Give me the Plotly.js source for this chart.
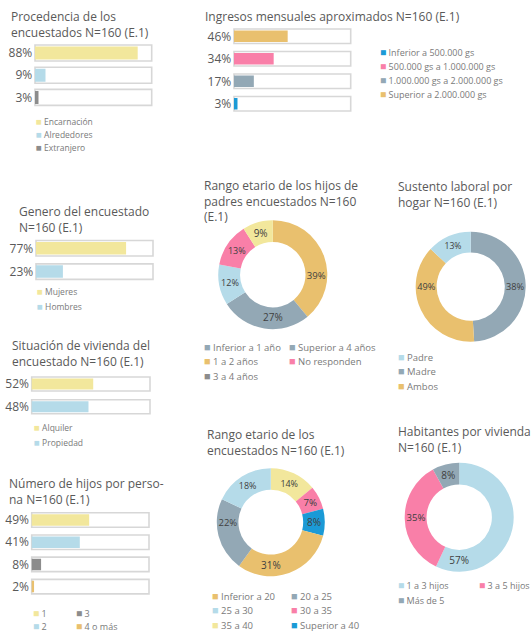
<!DOCTYPE html>
<html>
<head>
<meta charset="utf-8">
<script src="https://cdn.plot.ly/plotly-3.0.1.min.js"></script>
<style>html,body{margin:0;padding:0;background:#fff;overflow:hidden}#chart{width:532px;height:633px}</style>
</head>
<body>
<div id="chart"></div>
<script>
// ---------------- DATA ----------------
const procedenciaCats = ['Encarnación', 'Alrededores', 'Extranjero'];
const procedenciaVals = [88, 9, 3];

const ingresosCats = ['Superior a 2.000.000 gs', '500.000 gs a 1.000.000 gs', '1.000.000 gs a 2.000.000 gs', 'Inferior a 500.000 gs'];
const ingresosVals = [46, 34, 17, 3];
const ingresosLegend = ['Inferior a 500.000 gs', '500.000 gs a 1.000.000 gs', '1.000.000 gs a 2.000.000 gs', 'Superior a 2.000.000 gs'];

const generoCats = ['Mujeres', 'Hombres'];
const generoVals = [77, 23];

const viviendaCats = ['Alquiler', 'Propiedad'];
const viviendaVals = [52, 48];

const numHijosCats = ['1', '2', '3', '4 o más'];
const numHijosVals = [49, 41, 8, 2];

const edadHijosLabels = ['1 a 2 años', 'Superior a 4 años', 'Inferior a 1 año', 'No responden', '3 a 4 años'];
const edadHijosVals = [39, 27, 12, 13, 9];
const edadHijosLegend = ['Inferior a 1 año', 'Superior a 4 años', '1 a 2 años', 'No responden', '3 a 4 años'];

// In the reference the slice sizes and the printed percentages disagree;
// both are reproduced as pictured.
const sustentoLabels = ['Madre', 'Ambos', 'Padre'];
const sustentoSlices = [49, 38, 13];
const sustentoPrinted = [38, 49, 13];
const sustentoLegend = ['Padre', 'Madre', 'Ambos'];

const edadEncLabels = ['35 a 40', '30 a 35', 'Superior a 40', 'Inferior a 20', '20 a 25', '25 a 30'];
const edadEncVals = [14, 7, 8, 31, 22, 18];
const edadEncLegend = ['Inferior a 20', '20 a 25', '25 a 30', '30 a 35', '35 a 40', 'Superior a 40'];

const habitantesLabels = ['1 a 3 hijos', '3 a 5 hijos', 'Más de 5'];
const habitantesVals = [57, 35, 8];

// ---------------- STYLE ----------------
const W = 532, H = 633;
const FONT = 'Open Sans, sans-serif';
const C = {
  yellow: '#f2e79c', lblue: '#b5dbe9', dgray: '#8c8c8c', gold: '#e9c06e',
  pink: '#f97fa8', gblue: '#93a8b5', blue: '#1b9ad6'
};
const TITLE_COL = '#595959', LEG_COL = '#7a7a7a';

const traces = [];
const layout = {
  width: W, height: H, margin: {l: 0, r: 0, t: 0, b: 0},
  paper_bgcolor: '#fff', plot_bgcolor: 'rgba(0,0,0,0)',
  showlegend: false, barmode: 'overlay',
  font: {family: FONT, color: TITLE_COL},
  annotations: []
};

function barPanel(idx, vals, colors, L, R, yTop, s, h) {
  const n = vals.length;
  const unit = (R - L) / 100;
  const pad = 1.5;
  const xa = idx === 1 ? 'x' : 'x' + idx, ya = idx === 1 ? 'y' : 'y' + idx;
  const xk = idx === 1 ? 'xaxis' : 'xaxis' + idx, yk = idx === 1 ? 'yaxis' : 'yaxis' + idx;
  const top = yTop - s / 2, bottom = top + n * s;
  layout[xk] = {domain: [(L - pad * unit) / W, (R + pad * unit) / W], range: [-pad, 100 + pad],
                visible: false, fixedrange: true, anchor: ya};
  layout[yk] = {domain: [1 - bottom / H, 1 - top / H], range: [n - 0.5, -0.5], anchor: xa,
                tickvals: vals.map((v, i) => i), ticktext: vals.map(v => v + '%'),
                ticks: '', showgrid: false, zeroline: false, showline: false,
                tickfont: {size: 12, color: TITLE_COL, family: FONT}, fixedrange: true};
  const idxs = vals.map((v, i) => i);
  traces.push({type: 'bar', orientation: 'h', x: vals.map(() => 100), y: idxs, xaxis: xa, yaxis: ya,
               width: h / s, marker: {color: '#fff', line: {color: '#d7d7d7', width: 1.6}}, hoverinfo: 'skip'});
  traces.push({type: 'bar', orientation: 'h', x: vals, y: idxs, xaxis: xa, yaxis: ya,
               width: (h - 3) / s, marker: {color: colors, line: {width: 0}}, hoverinfo: 'skip'});
}

function pie(labels, vals, colors, cx, cy, r, hole, textArr) {
  const t = {type: 'pie', labels: labels, values: vals, sort: false, direction: 'clockwise', rotation: 0,
    hole: hole, marker: {colors: colors, line: {width: 0}},
    domain: {x: [(cx - r) / W, (cx + r) / W], y: [1 - (cy + r) / H, 1 - (cy - r) / H]},
    textposition: 'inside', insidetextorientation: 'horizontal',
    textfont: {family: FONT, size: 10, color: '#404040'}, hoverinfo: 'skip'};
  if (textArr) { t.text = textArr.map(v => v + '%'); t.textinfo = 'text'; }
  else { t.texttemplate = '%{value}%'; }
  traces.push(t);
}

function title(text, x, y, size) {
  layout.annotations.push({text: text, x: x / W, y: 1 - y / H, xref: 'paper', yref: 'paper',
    xanchor: 'left', yanchor: 'top', align: 'left', showarrow: false,
    font: {family: FONT, size: size || 12, color: TITLE_COL}});
}

function legItem(label, color, x, y, size) {
  layout.annotations.push({text: '<span style="color:' + color + ';font-size:' + ((size || 9) * 1.15) + 'px">■</span> ' + label,
    x: x / W, y: 1 - y / H, xref: 'paper', yref: 'paper', xanchor: 'left', yanchor: 'middle',
    showarrow: false, font: {family: FONT, size: size || 9, color: LEG_COL}});
}

// ---------------- BAR PANELS ----------------
barPanel(1, procedenciaVals, [C.yellow, C.lblue, C.dgray], 35, 151.7, 53, 22.2, 16);
barPanel(2, ingresosVals, [C.gold, C.pink, C.gblue, C.blue], 234, 350.7, 36.3, 22.5, 14.5);
barPanel(3, generoVals, [C.yellow, C.lblue], 36, 153, 248.3, 23.3, 15.5);
barPanel(4, viviendaVals, [C.yellow, C.lblue], 31.7, 150, 384, 22.7, 14);
barPanel(5, numHijosVals, [C.yellow, C.lblue, C.dgray, C.gold], 31.7, 149, 520, 22.2, 14.5);

// ---------------- DONUTS ----------------
pie(edadHijosLabels, edadHijosVals, [C.gold, C.gblue, C.lblue, C.pink, C.yellow], 272.8, 274.7, 54.5, 0.6);
pie(sustentoLabels, sustentoSlices, [C.gblue, C.gold, C.lblue], 470.7, 286.7, 55, 0.62, sustentoPrinted);
pie(edadEncLabels, edadEncVals, [C.yellow, C.pink, C.blue, C.gold, C.gblue, C.lblue], 270.8, 522.2, 54, 0.6);
pie(habitantesLabels, habitantesVals, [C.lblue, C.pink, C.gblue], 459.2, 517.2, 54.5, 0.6);

// ---------------- TITLES ----------------
title('Procedencia de los<br>encuestados N=160 (E.1)', 9, 6);
title('Ingresos mensuales aproximados N=160 (E.1)', 203, 6);
title('Genero del encuestado<br>N=160 (E.1)', 17, 201);
title('Situación de vivienda del<br>encuestado N=160 (E.1)', 10, 335);
title('Número de hijos por perso-<br>na N=160 (E.1)', 7, 473);
title('Rango etario de los hijos de<br>padres encuestados N=160<br>(E.1)', 202, 175);
title('Sustento laboral por<br>hogar N=160 (E.1)', 396, 176);
title('Rango etario de los<br>encuestados N=160 (E.1)', 205, 424);
title('Habitantes por vivienda<br>N=160 (E.1)', 396, 421);

// ---------------- LEGENDS ----------------
[[0, C.yellow], [1, C.lblue], [2, C.dgray]].forEach(([i, c], k) => legItem(procedenciaCats[i], c, 34, 121.5 + k * 13, 8.5));
[[0, C.blue], [1, C.pink], [2, C.gblue], [3, C.gold]].forEach(([i, c], k) => legItem(ingresosLegend[i], c, 378, 52.3 + k * 14, 9));
[[0, C.yellow], [1, C.lblue]].forEach(([i, c], k) => legItem(generoCats[i], c, 35, 291.7 + k * 14.3, 8.5));
[[0, C.yellow], [1, C.lblue]].forEach(([i, c], k) => legItem(viviendaCats[i], c, 32, 428 + k * 14.5, 8.5));
legItem(numHijosCats[0], C.yellow, 31, 612.7, 9);
legItem(numHijosCats[2], C.dgray, 74, 612.7, 9);
legItem(numHijosCats[1], C.lblue, 31, 626, 9);
legItem(numHijosCats[3], C.gold, 74, 626, 9);

legItem(edadHijosLegend[0], C.gblue, 202, 346, 9.5);
legItem(edadHijosLegend[1], C.gblue, 287, 346, 9.5);
legItem(edadHijosLegend[2], C.gold, 202, 360.5, 9.5);
legItem(edadHijosLegend[3], C.pink, 287, 360.5, 9.5);
legItem(edadHijosLegend[4], C.dgray, 202, 375, 9.5);

legItem(sustentoLegend[0], C.lblue, 396, 356, 9.5);
legItem(sustentoLegend[1], C.gblue, 396, 370.5, 9.5);
legItem(sustentoLegend[2], C.gold, 396, 385, 9.5);

legItem(edadEncLegend[0], C.gold, 210, 595, 9.5);
legItem(edadEncLegend[1], C.gblue, 289, 595, 9.5);
legItem(edadEncLegend[2], C.lblue, 210, 609.5, 9.5);
legItem(edadEncLegend[3], C.pink, 289, 609.5, 9.5);
legItem(edadEncLegend[4], C.yellow, 210, 624, 9.5);
legItem(edadEncLegend[5], C.blue, 289, 624, 9.5);

legItem(habitantesLabels[0], C.lblue, 396, 585, 9);
legItem(habitantesLabels[1], C.pink, 477, 585, 9);
legItem(habitantesLabels[2], C.gblue, 396, 599.5, 9);

Plotly.newPlot('chart', traces, layout, {staticPlot: true, displayModeBar: false});
</script>
</body>
</html>
